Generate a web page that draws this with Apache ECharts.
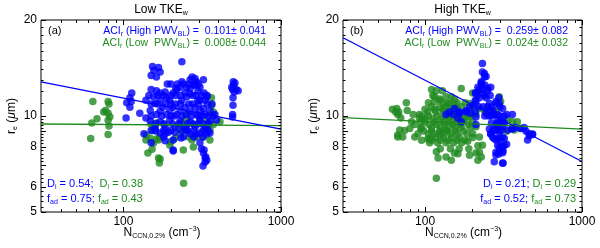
<!DOCTYPE html>
<html><head><meta charset="utf-8">
<script src="https://cdn.jsdelivr.net/npm/echarts@6/dist/echarts.min.js"></script>
<style>html,body{margin:0;padding:0;background:#fff}#c{width:600px;height:248px}</style>
</head><body><div id="c"></div>
<script>
// ---------- data (N_CCN,0.2% [cm^-3], r_e [um]) ----------
const aLowPWV = [[64,11.1],[80,11.1],[81,10.9],[75,10.3],[80,10.2],[82,9.95],[68,9.8],[63,9.5],[80,9.7],[81,9.3],[62,8.5],[80,8.75],[77,10.4],
[150,9.4],[159,9.04],[139,8.72],[148,8.52],[167,8.41],[143,7.65],[167,7.38],[169,7.12],[240,7.82],[278,8.0],[272,8.41],[290,8.6],[354,8.41],[354,9.04],[372,9.4],[410,9.6],[362,11.4],[362,10.8],[372,10.3],[248,10.1],[246,9.25],[252,9.04],[224,9.14],[235,9.5],[162,9.5],[155,8.22],[241,6.15],[162,8.47],[153,9.0],[197,8.1],[213,8.53],[306,9.72],[184,9.4],[330,9.15],[285,9.4],[252,9.8],[340,9.2],[139,8.41],[152,7.86],[171,7.33],
[155,9.2],[170,8.6],[200,8.3],[230,8.8],[260,8.6],[320,8.6],[340,9.6]];
const aHighPWV = [[113,11.8],[110,11.4],[105,11.0],[112,11.1],[110,10.65],[104,9.85],
[153,14.3],[156,13.9],[167,14.2],[171,13.75],[150,13.4],[162,13.25],[235,14.8],
[500,12.5],[520,12.1],[535,12.0],[493,12.1],[496,11.4],[496,10.8],[493,10.1],[487,12.3],[493,9.93],[505,11.9],[498,12.8],[510,12.7],
[207,7.82],[322,7.65],[330,7.38],[320,6.97],[338,7.27],[313,7.9],[139,9.85],[184,8.8],[193,8.9],[135,8.8],[150,8.24],[160,8.98],[184,8.36],[207,7.76],[232,8.53],[250,9.04],[325,7.82],[333,7.44],[330,7.17],[306,8.24],[290,8.78],[338,8.78],[207,8.41],[127,10.2],
[297,11.2],[290,12.8],[285,12.5],[265,12.2],[229,12.3],[218,12.1],[285,13.1],[306,12.3],[322,13.0],[273,13.25],[279,12.5],[297,12.0],[215,12.2],[207,11.8],[197,11.2],[235,11.2],[252,11.5],[306,11.2],[330,11.2],[338,11.5],[162,12.0],[155,11.5],[150,12.1],[171,11.2],[188,11.4],[139,11.2],[159,10.95],[178,10.65],[207,10.65],[246,10.65],[285,10.65],[322,10.55],[162,10.1],[188,10.1],[218,10.1],[252,10.1],[290,10.1],[330,10.1],[381,10.1],[252,12.3],
[148,9.65],[171,9.6],[197,9.7],[229,9.65],[265,9.6],[306,9.7],[354,9.65],
[159,9.23],[184,9.2],[213,9.25],[246,9.2],[285,9.25],[330,9.2],
[148,10.4],[171,10.35],[197,10.45],[229,10.4],[265,10.35],[306,10.4],[354,10.4],
[171,11.8],[184,11.9],[246,11.8],[265,11.75],[325,11.8],
[171,8.85],[213,8.9],[265,8.8],[306,8.85],[354,8.85],
[390,9.72],[265,13.0],[235,12.8],
[190,12.6],[200,12.6],[220,12.6],[240,12.6],[260,12.6],[300,12.6],
[145,11.6],[165,11.6],[180,11.6],[200,11.6],[215,11.6],[230,11.6],[275,11.6],[290,11.6],[315,11.6],[340,11.6],
[150,10.9],[165,10.9],[185,10.9],[200,10.9],[215,10.9],[230,10.9],[260,10.9],[275,10.9],[300,10.9],[340,10.9],[365,10.9],
[150,10.0],[175,10.0],[200,10.0],[210,10.0],[235,10.0],[270,10.0],[300,10.0],[315,10.0],[345,10.0],[370,10.0],
[160,9.45],[180,9.45],[205,9.45],[225,9.45],[255,9.45],[275,9.45],[300,9.45],[320,9.45],[345,9.45],
[150,9.0],[180,9.0],[200,9.0],[235,9.0],[255,9.0],[280,9.0],[320,9.0],[345,9.0],
[180,8.6],[240,8.6],[280,8.6],[320,8.6]];
const bLowPWV = [[62,10.5],[65,10.3],[67,10.1],[77,10.4],[70,9.85],[67,8.72],[69,9.04],[74,9.0],[80,9.14],[86,9.4],[94,9.6],[92,10.1],[82,9.6],[107,8.52],[94,9.14],[118,7.73],[121,7.38],[136,7.44],[147,7.27],[154,7.65],[118,12.0],[112,11.6],[124,11.2],[115,11.1],[136,11.5],[143,10.95],[154,10.95],[170,12.2],[158,10.55],[166,9.93],[183,10.2],[195,10.1],[211,9.25],[201,8.8],[222,8.6],[232,8.1],[211,7.65],[217,7.27],[297,11.5],[303,11.1],[283,10.4],[336,9.72],[360,9.6],[387,9.6],[406,9.14],[370,9.04],[331,8.95],[192,10.95],[201,11.8],[118,6.38],[67,8.6],[72,8.6],[86,8.6],[104,8.47],[124,8.78],[136,9.0],[162,7.62],[187,8.33],[201,8.56],[222,7.7],[228,7.44],[192,7.53],[217,8.06],[110,12.1],[129,12.0],[147,11.5],[76,11.0],[66,10.55],[68,10.3],[84,10.1],[92,9.85],[115,11.5],[124,10.65],[139,10.95],[158,10.4],[201,10.65],[222,10.55],[192,9.93],[211,10.1],[239,10.4],
[104,10.3],[117,10.3],[131,10.3],[148,10.3],
[100,9.8],[112,9.8],[126,9.8],[141,9.8],[159,9.8],[178,9.8],
[106,9.4],[118,9.4],[133,9.4],[150,9.4],[168,9.4],[189,9.4],
[98,8.98],[110,8.98],[124,8.98],[139,8.98],[156,8.98],[176,8.98],
[117,8.56],[131,8.56],[148,8.56],[166,8.56],
[107,8.24],[120,8.24],[136,8.24],[152,8.24],[171,8.24],
[110,10.7],[136,10.7],[171,10.7],[124,11.3],[154,11.3],[290,9.5],[300,9.2],
[95,10.0],[105,10.0],[120,10.0],[135,10.0],[150,10.0],[165,10.0],[185,10.0],
[100,9.6],[115,9.6],[130,9.6],[145,9.6],[160,9.6],[175,9.6],[200,9.6],
[95,9.2],[110,9.2],[125,9.2],[140,9.2],[155,9.2],[170,9.2],[195,9.2],
[90,8.8],[105,8.8],[115,8.8],[130,8.8],[145,8.8],[160,8.8],[185,8.8],
[95,8.4],[110,8.4],[125,8.4],[140,8.4],[160,8.4],[180,8.4],
[100,10.5],[115,10.5],[130,10.5],[145,10.5],[160,10.5],
[105,11.0],[130,11.0],[160,11.0],[180,11.0],
[125,7.9],[145,7.9],[165,7.9],[190,7.9]];
const bHighPWV = [[232,14.6],[239,13.6],[245,13.3],[228,12.8],[217,12.3],[228,12.1],[211,11.8],[232,11.8],[251,12.0],[222,11.4],[245,11.4],[209,11.2],[257,10.95],[283,11.1],[297,10.95],[270,10.4],[276,10.1],[290,9.72],[312,9.6],[283,9.4],[290,9.04],[262,8.8],[269,8.6],[283,8.41],[312,9.25],[336,9.04],[360,9.14],[406,9.14],[428,9.2],[461,8.8],[484,8.75],[450,8.41],[312,8.0],[297,7.73],[312,7.67],[283,7.54],[312,7.11],[276,7.19],
[143,10.3],[154,10.55],[166,10.3],[162,9.85],[170,9.6],[183,10.3],[195,10.2],[209,10.3],[211,9.93],[211,9.4],[136,10.1],[201,10.8],[151,10.1],[166,10.2],[183,10.4],[192,10.65],[211,11.1],[209,11.8],[222,12.1],[228,12.7],[239,13.25],[232,13.75],[251,12.2],[262,12.3],[295,11.4],[283,10.95],[312,10.55],[257,10.4],[245,10.2],[290,10.1],[331,10.1],[360,10.1],[257,9.1],[283,9.2],[297,8.9],[262,8.78],[312,8.56],[331,8.16],[297,7.96],[283,7.7],[295,7.6],[314,7.76],[314,7.12],[376,9.2],[461,8.66],[484,8.78],[360,9.1],[440,8.95],
[240,12.5],[230,12.5],[215,11.6],[240,11.6],[260,11.6],
[220,10.7],[235,10.7],[250,10.7],[265,10.7],[300,10.7],
[240,10.0],[255,10.0],[265,10.0],[300,10.0],[320,10.0],
[265,9.5],[295,9.5],[305,9.5],[320,9.5],
[270,9.0],[275,9.0],[305,9.0],[275,8.5],[290,8.5],[300,8.5],[320,8.5],[290,8.1],[305,8.1],[320,8.1]];
// fit lines (end points of the ACI fits)
const aFitHigh = [[30,12.8],[1000,9.1]];
const aFitLow  = [[30,9.44],[1000,9.33]];
const bFitHigh = [[30,17.6],[1000,7.2]];
const bFitLow  = [[30,9.88],[1000,9.1]];
// axes
const xRange = [30,1000];
const yRange = [5,20];
const xMajorTicks = [100,1000];
const xMinorTicks = [40,50,60,70,80,90,200,300,400,500,600,700,800,900];
const xTickLabels = ['100','1000'];
const yMajorTicks = [5,6,7,8,9,10,20];
const yMinorTicks = [5.2,5.4,5.6,5.8,6.2,6.4,6.6,6.8,7.2,7.4,7.6,7.8,8.2,8.4,8.6,8.8,9.2,9.4,9.6,9.8,11,12,13,14,15,16,17,18,19];
const yLabelVals = [5,6,8,10,20];
const yTickLabels = ['5','6','8','10','20'];
// text
const panelTitles = ['Low TKE','High TKE'];
const panelTags = ['(a)','(b)'];
const aciHigh = ['0.101± 0.041','0.259± 0.082'];
const aciLow  = ['0.008± 0.044','0.024± 0.032'];
const diHigh = ['0.54','0.21'], diLow = ['0.38','0.29'];
const fadHigh = ['0.75','0.52'], fadLow = ['0.43','0.73'];

const BLUE = '#0000ff', GREEN = '#1f8a1f', FONT = 'Liberation Sans';
const chart = echarts.init(document.getElementById('c'), null, {renderer:'canvas'});

const grids = [{left:41, top:20, width:240, height:192}, {left:343, top:20, width:239, height:192}];

function tickSeries(gi, vals, isX, len){
  return {type:'custom', xAxisIndex:gi, yAxisIndex:gi, silent:true, clip:false, z:10,
    data: vals.map(v => isX ? [v, yRange[0]] : [xRange[0], v]),
    renderItem(params, api){
      const v = api.value(isX?0:1);
      const st = {stroke:'#000', lineWidth:1};
      if (isX){
        const b = api.coord([v, yRange[0]]), t = api.coord([v, yRange[1]]);
        const x = Math.round(b[0]) + 0.5;
        return {type:'group', children:[
          {type:'line', shape:{x1:x,y1:b[1],x2:x,y2:b[1]-len}, style:st},
          {type:'line', shape:{x1:x,y1:t[1],x2:x,y2:t[1]+len}, style:st}]};
      } else {
        const l = api.coord([xRange[0], v]), r = api.coord([xRange[1], v]);
        const y = Math.round(l[1]) + 0.5;
        return {type:'group', children:[
          {type:'line', shape:{x1:l[0],y1:y,x2:l[0]+len,y2:y}, style:st},
          {type:'line', shape:{x1:r[0],y1:y,x2:r[0]-len,y2:y}, style:st}]};
      }
    }};
}
function labelSeries(gi, vals, labels, isX){
  return {type:'custom', xAxisIndex:gi, yAxisIndex:gi, silent:true, clip:false, z:10,
    data: vals.map((v,i) => isX ? [v, yRange[0], i] : [xRange[0], v, i]),
    renderItem(params, api){
      const p = api.coord([api.value(0), api.value(1)]);
      const txt = labels[api.value(2)];
      return {type:'text', x: isX ? p[0] : p[0]-4, y: isX ? p[1]+4 : p[1],
        style:{text:txt, fill:'#000', fontSize:12, fontFamily:FONT,
          align: isX ? 'center':'right', verticalAlign: isX ? 'top':'middle'}};
    }};
}

const series = [];
const dataSets = [[aLowPWV,aHighPWV,aFitLow,aFitHigh],[bLowPWV,bHighPWV,bFitLow,bFitHigh]];
dataSets.forEach((d,gi)=>{
  series.push({type:'scatter', xAxisIndex:gi, yAxisIndex:gi, data:d[0], symbolSize:7.5, itemStyle:{color:GREEN}, z:2, silent:true});
  series.push({type:'scatter', xAxisIndex:gi, yAxisIndex:gi, data:d[1], symbolSize:7.5, itemStyle:{color:BLUE}, z:3, silent:true});
  series.push({type:'line', xAxisIndex:gi, yAxisIndex:gi, data:d[2], showSymbol:false, lineStyle:{color:GREEN, width:1.3}, z:4, silent:true});
  series.push({type:'line', xAxisIndex:gi, yAxisIndex:gi, data:d[3], showSymbol:false, lineStyle:{color:BLUE, width:1.3}, z:4, silent:true});
  series.push(tickSeries(gi, xMajorTicks, true, 5));
  series.push(tickSeries(gi, xMinorTicks, true, 3));
  series.push(tickSeries(gi, yMajorTicks, false, 5));
  series.push(tickSeries(gi, yMinorTicks, false, 2.5));
  series.push(labelSeries(gi, xMajorTicks, xTickLabels, true));
  series.push(labelSeries(gi, yLabelVals, yTickLabels, false));
});

const axisCommon = {axisLine:{show:false}, axisTick:{show:false}, axisLabel:{show:false}, splitLine:{show:false}};
const xAxis = grids.map((g,i)=>Object.assign({type:'log', logBase:10, gridIndex:i, min:xRange[0], max:xRange[1]}, axisCommon));
const yAxis = grids.map((g,i)=>Object.assign({type:'log', logBase:10, gridIndex:i, min:yRange[0], max:yRange[1]}, axisCommon));

const rich = (c, fs) => ({
  n:{fill:c, fontSize:fs, fontFamily:FONT, lineHeight:14, verticalAlign:'middle'},
  s:{fill:c, fontSize:7, fontFamily:FONT, lineHeight:7, verticalAlign:'bottom'},
  p:{fill:c, fontSize:7, fontFamily:FONT, lineHeight:7, verticalAlign:'top'},
  i:{fill:c, fontSize:fs, fontFamily:FONT, fontStyle:'italic', lineHeight:14, verticalAlign:'middle'},
  b:{fill:BLUE, fontSize:fs, fontFamily:FONT, lineHeight:14, verticalAlign:'middle'},
  bs:{fill:BLUE, fontSize:7, fontFamily:FONT, lineHeight:7, verticalAlign:'bottom'},
  g:{fill:GREEN, fontSize:fs, fontFamily:FONT, lineHeight:14, verticalAlign:'middle'},
  gs:{fill:GREEN, fontSize:7, fontFamily:FONT, lineHeight:7, verticalAlign:'bottom'}
});
function txt(x,y,text,c,fs,align,rot){
  return {type:'text', x:x, y:y, rotation:rot||0, silent:true, z:20,
    style:{text:text, rich:rich(c,fs), fill:c, fontSize:fs, fontFamily:FONT, align:align, verticalAlign:'middle'}};
}
const graphics = [];
const offs = [0, 302];
[0,1].forEach(i=>{
  const o = offs[i];
  const cx = grids[i].left + grids[i].width/2;
  graphics.push(txt(cx, 10, '{n|'+panelTitles[i]+'}{s|w}', '#000', 12, 'center'));
  graphics.push(txt(grids[i].left+7, 31, panelTags[i], '#000', 11, 'left'));
  graphics.push(txt(o+266, 31, '{b|ACI}{bs|r}{b| (High PWV}{bs|BL}{b|) =  '+aciHigh[i]+'}', BLUE, 10.5, 'right'));
  graphics.push(txt(o+266, 43, '{g|ACI}{gs|r}{g| (Low  PWV}{gs|BL}{g|) =  '+aciLow[i]+'}', GREEN, 10.5, 'right'));
  graphics.push(txt(cx+1, 233, '{n|N}{s|CCN,0.2%}{n| (cm}{p|−3}{n|)}', '#000', 12, 'center'));
  graphics.push(txt(o+12, 116, '{n|r}{s|e}{n| (}{i|μ}{n|m)}', '#000', 12, 'center', Math.PI/2));
});
graphics.push(txt(47, 184, '{b|D}{bs|i}{b| = '+diHigh[0]+';  }{g|D}{gs|i}{g| = '+diLow[0]+'}', BLUE, 11, 'left'));
graphics.push(txt(47, 199, '{b|f}{bs|ad}{b| = '+fadHigh[0]+'; }{g|f}{gs|ad}{g| = '+fadLow[0]+'}', BLUE, 11, 'left'));
graphics.push(txt(576, 184, '{b|D}{bs|i}{b| = '+diHigh[1]+'; }{g|D}{gs|i}{g| = '+diLow[1]+'}', BLUE, 11, 'right'));
graphics.push(txt(576, 199, '{b|f}{bs|ad}{b| = '+fadHigh[1]+'; }{g|f}{gs|ad}{g| = '+fadLow[1]+'}', BLUE, 11, 'right'));

chart.setOption({
  animation:false,
  backgroundColor:'#fff',
  grid: grids.map(g=>Object.assign({show:true, borderColor:'#000', borderWidth:1, backgroundColor:'transparent'}, g)),
  xAxis, yAxis, series, graphic: graphics
});
</script></body></html>
